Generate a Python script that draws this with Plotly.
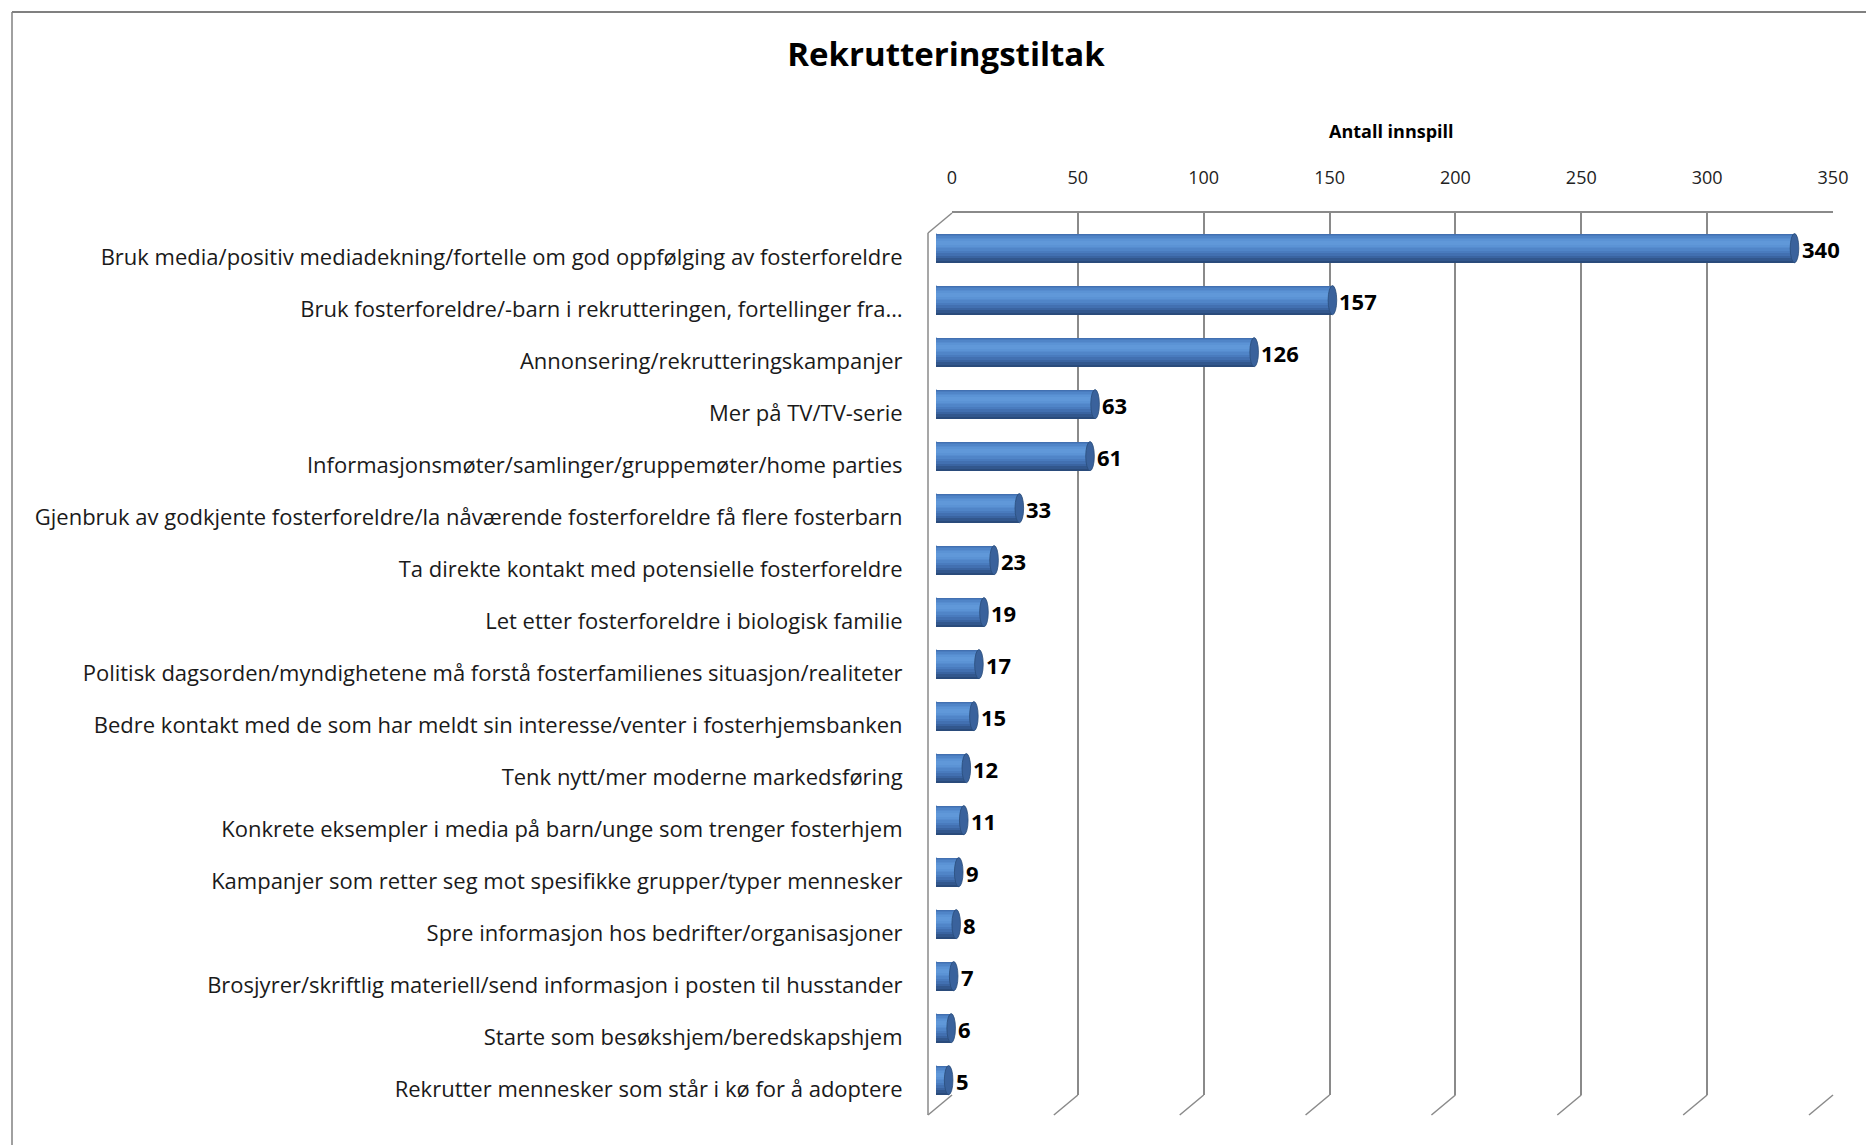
import plotly.graph_objects as go

# ---------------- data ----------------
categories = [
    "Bruk media/positiv mediadekning/fortelle om god oppfølging av fosterforeldre",
    "Bruk fosterforeldre/-barn i rekrutteringen, fortellinger fra…",
    "Annonsering/rekrutteringskampanjer",
    "Mer på TV/TV-serie",
    "Informasjonsmøter/samlinger/gruppemøter/home parties",
    "Gjenbruk av godkjente fosterforeldre/la nåværende fosterforeldre få flere fosterbarn",
    "Ta direkte kontakt med potensielle fosterforeldre",
    "Let etter fosterforeldre i biologisk familie",
    "Politisk dagsorden/myndighetene må forstå fosterfamilienes situasjon/realiteter",
    "Bedre kontakt med de som har meldt sin interesse/venter i fosterhjemsbanken",
    "Tenk nytt/mer moderne markedsføring",
    "Konkrete eksempler i media på barn/unge som trenger fosterhjem",
    "Kampanjer som retter seg mot spesifikke grupper/typer mennesker",
    "Spre informasjon hos bedrifter/organisasjoner",
    "Brosjyrer/skriftlig materiell/send informasjon i posten til husstander",
    "Starte som besøkshjem/beredskapshjem",
    "Rekrutter mennesker som står i kø for å adoptere",
]
values = [340, 157, 126, 63, 61, 33, 23, 19, 17, 15, 12, 11, 9, 8, 7, 6, 5]
tick_values = [0, 50, 100, 150, 200, 250, 300, 350]
title_text = "Rekrutteringstiltak"
axis_title = "Antall innspill"

# ---------------- geometry helpers ----------------
W, H = 1866, 1145
def px(x):
    return x / W
def py(y):
    return 1 - y / H

FONT = "Open Sans"
GRID = "#8a8a8a"

# back wall (pixel box)
BW_L, BW_R, BW_T, BW_B = 952, 1833, 213, 1095
DX, DY = -24, 20          # 3D depth offset to front plane
XMAX = 350
BAR0, BARSCALE = 936, 2.525

idx = list(range(len(categories)))
fig = go.Figure()

# invisible trace to hold the back-wall subplot
fig.add_trace(go.Scatter(x=[0], y=[0], mode="markers", marker=dict(opacity=0),
                         hoverinfo="skip", showlegend=False, xaxis="x", yaxis="y"))

# cylinder-like shading: stacked overlay bars, band fractions (top, bottom) of the bar
C = -0.17      # bar centre relative to category position
BH = 0.56      # bar thickness in category units
layers = [
    (0.00, 1.00, "#2A4B7B"),
    (0.00, 0.93, "#32578D"),
    (0.00, 0.85, "#3A64A1"),
    (0.02, 0.76, "#4270B1"),
    (0.05, 0.67, "#497BBE"),
    (0.09, 0.59, "#5085C8"),
    (0.14, 0.51, "#568CCF"),
    (0.20, 0.45, "#5B93D5"),
    (0.26, 0.40, "#6098D9"),
]
for a, b, col in layers:
    fig.add_trace(go.Bar(
        x=values, y=idx, orientation="h",
        width=[(b - a) * BH] * len(values),
        offset=[C - BH / 2 + a * BH] * len(values),
        marker=dict(color=col, line=dict(width=0)),
        hoverinfo="skip", showlegend=False, xaxis="x2", yaxis="y2",
    ))

shapes = []
annotations = []

# cylinder end caps and value labels
for i, v in zip(idx, values):
    shapes.append(dict(type="circle", xref="x2", yref="y2",
                       x0=v - 1.7, x1=v + 1.7, y0=i + C - BH / 2, y1=i + C + BH / 2,
                       fillcolor="#3A629C", line=dict(width=0.8, color="#2A4C7A"),
                       layer="above"))
    shapes.append(dict(type="circle", xref="x2", yref="y2",
                       x0=-1.7, x1=1.7, y0=i + C - BH / 2, y1=i + C + BH / 2,
                       fillcolor="#4072B0", line=dict(width=0), layer="below"))
    annotations.append(dict(x=v, y=i + C, xref="x2", yref="y2", text=str(v),
                            showarrow=False, xanchor="left", yanchor="middle",
                            xshift=5, yshift=-1,
                            font=dict(family=FONT, size=22, color="#000000", weight=700)))

# 3D box: left wall + floor slants
shapes.append(dict(type="line", xref="paper", yref="paper",
                   x0=px(BW_L + DX), y0=py(BW_T + DY), x1=px(BW_L + DX), y1=py(BW_B + DY),
                   line=dict(color=GRID, width=1.5)))
shapes.append(dict(type="line", xref="paper", yref="paper",
                   x0=px(BW_L + DX), y0=py(BW_T + DY), x1=px(BW_L), y1=py(BW_T),
                   line=dict(color=GRID, width=1.5)))
for t in tick_values:
    xk = BW_L + t * (BW_R - BW_L) / XMAX
    shapes.append(dict(type="line", xref="paper", yref="paper",
                       x0=px(xk), y0=py(BW_B), x1=px(xk + DX), y1=py(BW_B + DY),
                       line=dict(color=GRID, width=1.5)))

# outer frame (left & top visible)
shapes.append(dict(type="line", xref="paper", yref="paper",
                   x0=px(12), y0=py(12), x1=px(12), y1=py(H + 5),
                   line=dict(color="#808080", width=1.5)))
shapes.append(dict(type="line", xref="paper", yref="paper",
                   x0=px(12), y0=py(12), x1=px(W + 5), y1=py(12),
                   line=dict(color="#808080", width=2)))

annotations.append(dict(x=px(1391), y=py(131), xref="paper", yref="paper",
                        text=axis_title, showarrow=False, xanchor="center", yanchor="middle",
                        font=dict(family=FONT, size=18, color="#000000", weight=700)))

fig.update_layout(
    width=W, height=H,
    margin=dict(l=0, r=0, t=0, b=0, autoexpand=False),
    paper_bgcolor="white", plot_bgcolor="rgba(0,0,0,0)",
    barmode="overlay", bargap=0,
    title=dict(text=title_text, x=px(946), y=py(54), xanchor="center", yanchor="middle",
               font=dict(family=FONT, size=33, color="#000000", weight=700)),
    xaxis=dict(domain=[px(BW_L), px(BW_R)], range=[0, XMAX], anchor="y", side="top",
               tickvals=tick_values, ticktext=[str(t) for t in tick_values],
               showgrid=True, gridcolor=GRID, gridwidth=1.5,
               showline=True, linecolor=GRID, linewidth=1.5, zeroline=False,
               ticks="outside", ticklen=20, tickcolor="rgba(0,0,0,0)",
               tickfont=dict(family=FONT, size=18, color="#222222")),
    yaxis=dict(domain=[py(BW_B), py(BW_T)], range=[0, 1], anchor="x", visible=False),
    xaxis2=dict(domain=[px(BAR0), px(BAR0 + BARSCALE * XMAX)], range=[0, XMAX], anchor="y2",
                visible=False),
    yaxis2=dict(domain=[py(1115), py(231)], range=[len(categories) - 0.5, -0.5], anchor="x2",
                tickvals=idx, ticktext=categories, showgrid=False, zeroline=False, showline=False,
                ticks="outside", ticklen=28, tickcolor="rgba(0,0,0,0)",
                tickfont=dict(family=FONT, size=22, color="#1a1a1a")),
    shapes=shapes, annotations=annotations,
)

fig.write_html(
    "out.html",
    config={"displayModeBar": False},
    post_script="document.body.style.margin='0';document.body.style.overflow='hidden';"
                "document.documentElement.style.overflow='hidden';",
)
